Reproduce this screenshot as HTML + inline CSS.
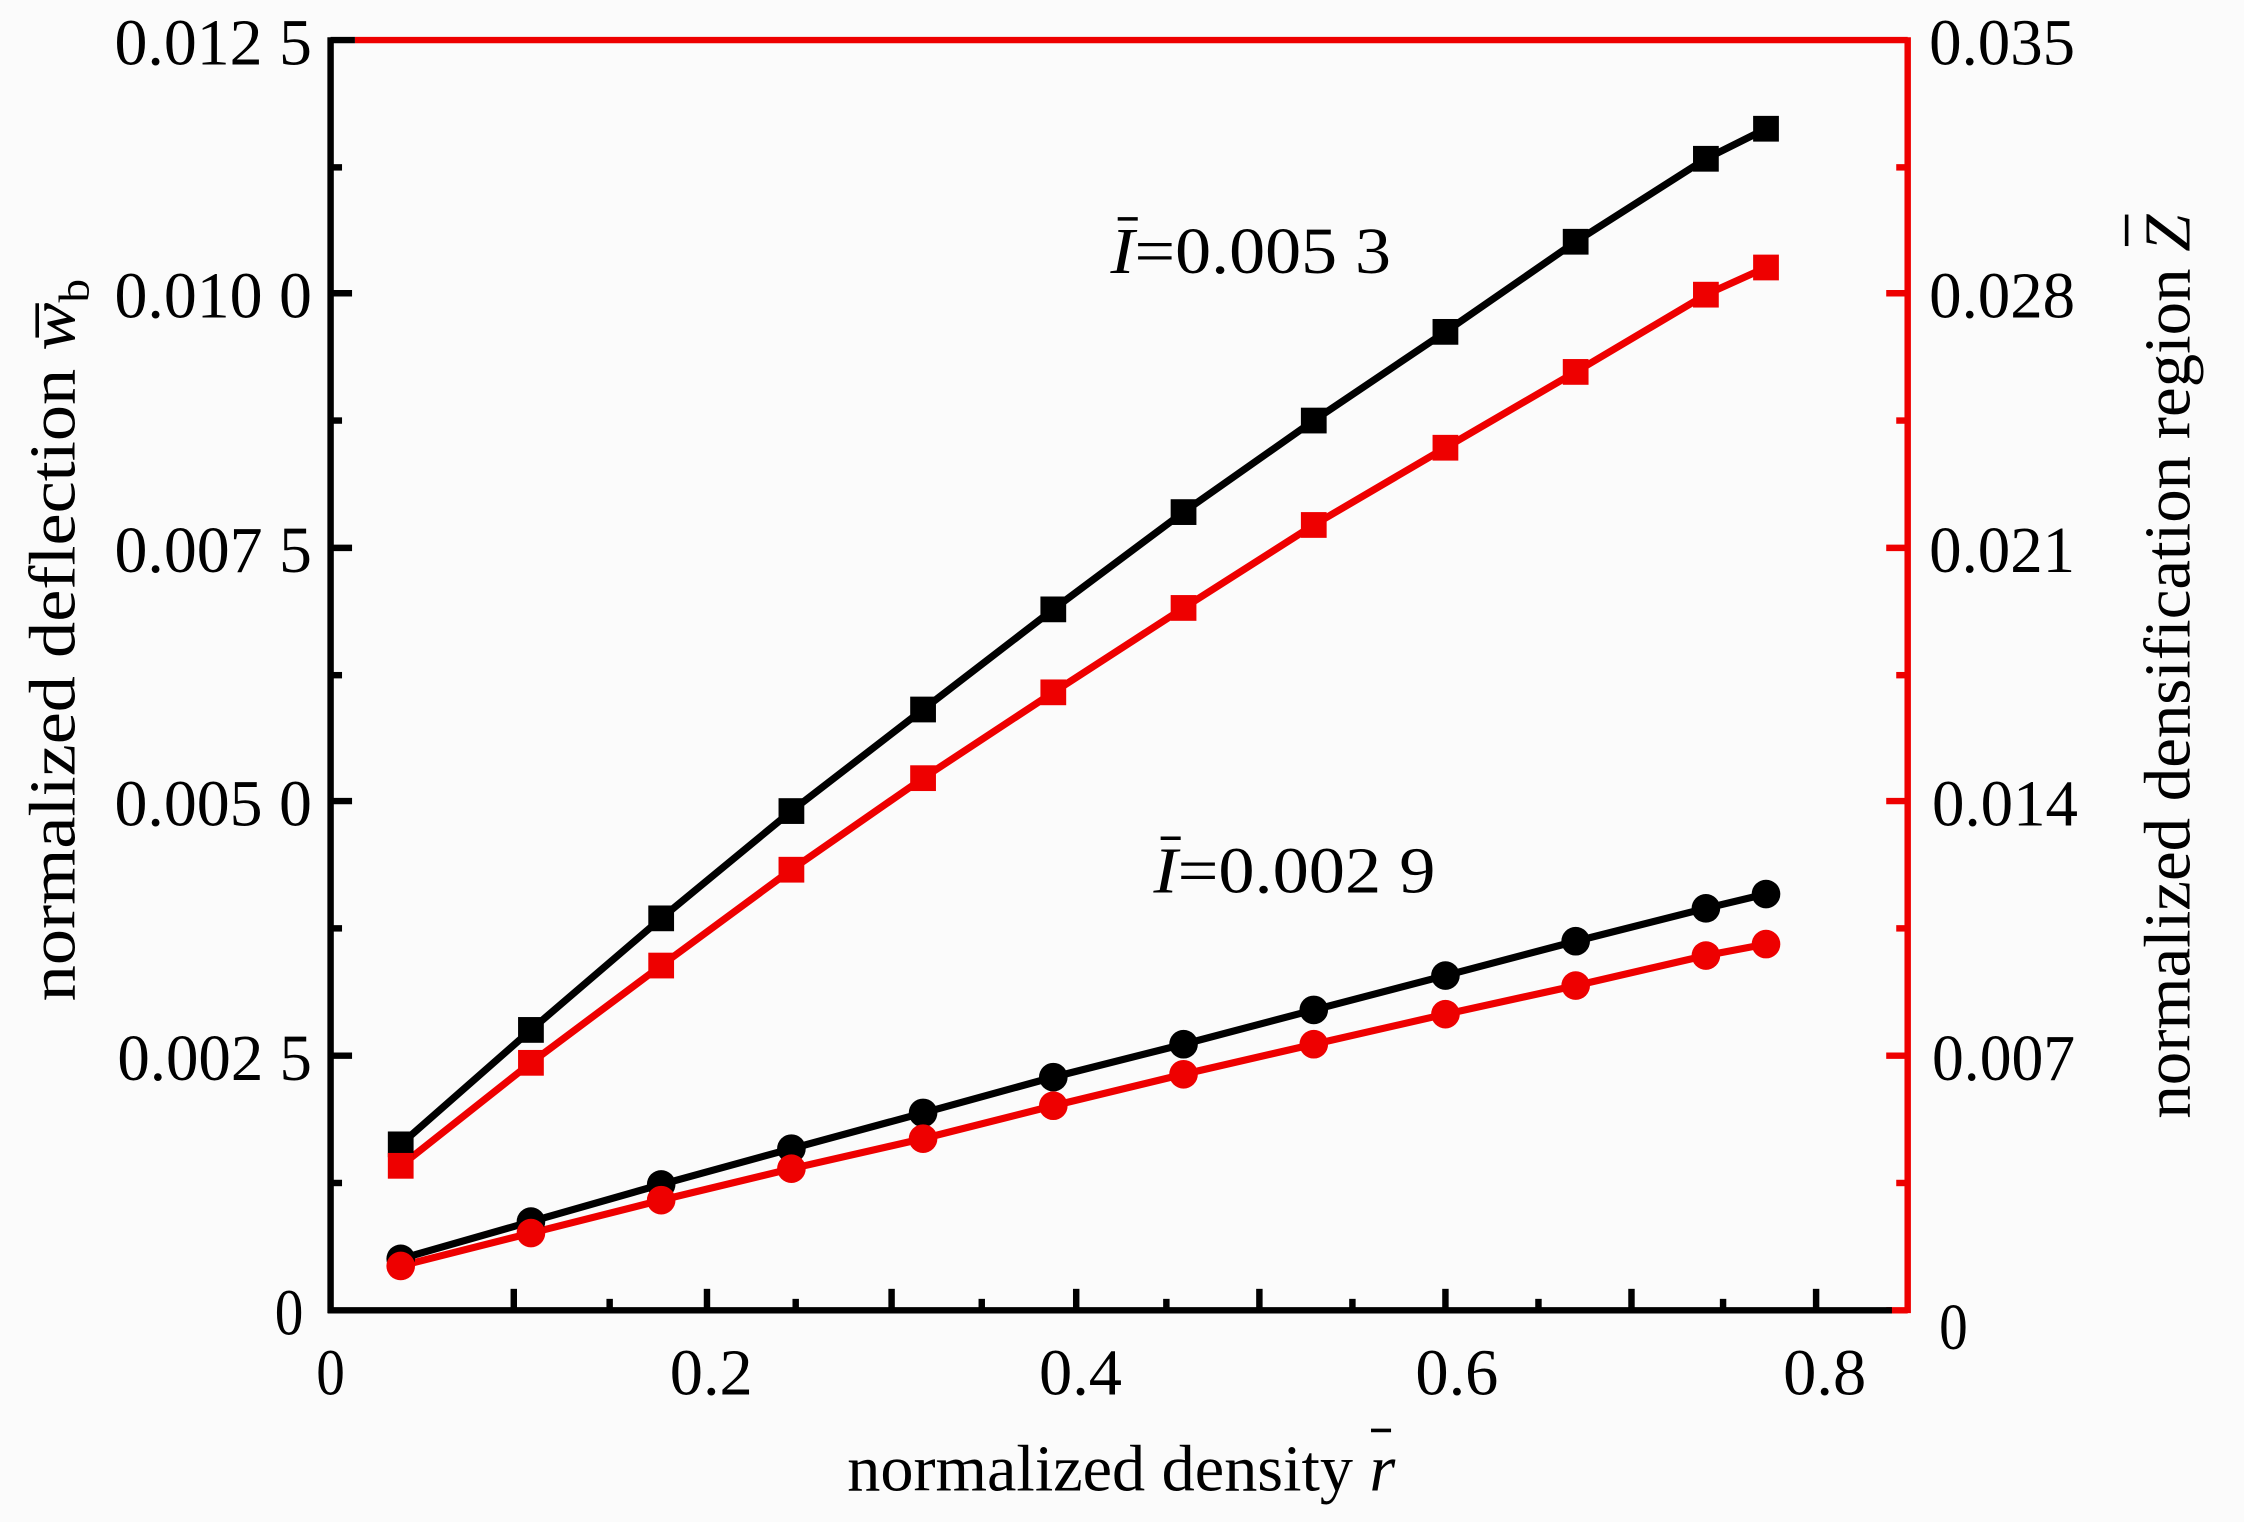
<!DOCTYPE html>
<html><head><meta charset="utf-8"><style>
html,body{margin:0;padding:0;background:#fbfbfb;}
svg{display:block;}
text{font-family:"Liberation Serif",serif;fill:#000;}
</style></head><body>
<svg width="2244" height="1522" viewBox="0 0 1568 1064" preserveAspectRatio="none" xmlns="http://www.w3.org/2000/svg">
<rect width="1568" height="1064" fill="#fbfbfb"/>
<line x1="248" y1="28" x2="1333" y2="28" stroke="#e00" stroke-width="4.5"/>
<line x1="1333" y1="26" x2="1333" y2="918" stroke="#e00" stroke-width="4.5"/>
<g stroke="#e00" stroke-width="4.5">
<line x1="1318" y1="205" x2="1333" y2="205"/><line x1="1318" y1="383" x2="1333" y2="383"/>
<line x1="1318" y1="560" x2="1333" y2="560"/><line x1="1318" y1="738" x2="1333" y2="738"/>
<line x1="1318" y1="916" x2="1333" y2="916"/>
<line x1="1325" y1="117" x2="1333" y2="117"/><line x1="1325" y1="294" x2="1333" y2="294"/>
<line x1="1325" y1="472" x2="1333" y2="472"/><line x1="1325" y1="649" x2="1333" y2="649"/>
<line x1="1325" y1="827" x2="1333" y2="827"/>
</g>
<line x1="231" y1="26" x2="231" y2="918" stroke="#000" stroke-width="4.5"/>
<line x1="229" y1="916" x2="1322" y2="916" stroke="#000" stroke-width="4.5"/>
<g stroke="#000" stroke-width="4.5">
<line x1="231" y1="28" x2="248" y2="28"/>
<line x1="231" y1="205" x2="246" y2="205"/><line x1="231" y1="383" x2="246" y2="383"/>
<line x1="231" y1="560" x2="246" y2="560"/><line x1="231" y1="738" x2="246" y2="738"/>
<line x1="231" y1="117" x2="239" y2="117"/><line x1="231" y1="294" x2="239" y2="294"/>
<line x1="231" y1="472" x2="239" y2="472"/><line x1="231" y1="649" x2="239" y2="649"/>
<line x1="231" y1="827" x2="239" y2="827"/>
<line x1="494" y1="901" x2="494" y2="916"/><line x1="623" y1="901" x2="623" y2="916"/>
<line x1="752" y1="901" x2="752" y2="916"/><line x1="880" y1="901" x2="880" y2="916"/>
<line x1="1010" y1="901" x2="1010" y2="916"/><line x1="1140" y1="901" x2="1140" y2="916"/>
<line x1="1269" y1="901" x2="1269" y2="916"/><line x1="359" y1="901" x2="359" y2="916"/>
<line x1="426" y1="908" x2="426" y2="916"/><line x1="556" y1="908" x2="556" y2="916"/>
<line x1="686" y1="908" x2="686" y2="916"/><line x1="815" y1="908" x2="815" y2="916"/>
<line x1="945" y1="908" x2="945" y2="916"/><line x1="1075" y1="908" x2="1075" y2="916"/>
<line x1="1204" y1="908" x2="1204" y2="916"/>
</g>
<g font-size="46" text-anchor="end">
<text x="218" y="45" textLength="138" lengthAdjust="spacingAndGlyphs">0.012 5</text>
<text x="218" y="222" textLength="138" lengthAdjust="spacingAndGlyphs">0.010 0</text>
<text x="218" y="400" textLength="138" lengthAdjust="spacingAndGlyphs">0.007 5</text>
<text x="218" y="577" textLength="138" lengthAdjust="spacingAndGlyphs">0.005 0</text>
<text x="218" y="755" textLength="136" lengthAdjust="spacingAndGlyphs">0.002 5</text>
<text x="212" y="933" textLength="20" lengthAdjust="spacingAndGlyphs">0</text>
</g>
<g font-size="46">
<text x="1348" y="45" textLength="102" lengthAdjust="spacingAndGlyphs">0.035</text>
<text x="1348" y="222" textLength="102" lengthAdjust="spacingAndGlyphs">0.028</text>
<text x="1348" y="400" textLength="102" lengthAdjust="spacingAndGlyphs">0.021</text>
<text x="1350" y="577" textLength="102" lengthAdjust="spacingAndGlyphs">0.014</text>
<text x="1350" y="755" textLength="100" lengthAdjust="spacingAndGlyphs">0.007</text>
<text x="1355" y="943" textLength="20" lengthAdjust="spacingAndGlyphs">0</text>
</g>
<g font-size="46" text-anchor="middle">
<text x="231" y="975" textLength="20" lengthAdjust="spacingAndGlyphs">0</text>
<text x="497" y="975" textLength="58" lengthAdjust="spacingAndGlyphs">0.2</text>
<text x="755" y="975" textLength="58" lengthAdjust="spacingAndGlyphs">0.4</text>
<text x="1018" y="975" textLength="58" lengthAdjust="spacingAndGlyphs">0.6</text>
<text x="1275" y="975" textLength="58" lengthAdjust="spacingAndGlyphs">0.8</text>
</g>
<text x="592" y="1042" font-size="46" textLength="383" lengthAdjust="spacingAndGlyphs">normalized density <tspan font-style="italic">r</tspan></text>
<line x1="958" y1="1000" x2="972" y2="1000" stroke="#000" stroke-width="2.5"/>
<text transform="translate(52,700) rotate(-90)" font-size="46" textLength="505" lengthAdjust="spacingAndGlyphs">normalized deflection <tspan font-style="italic">w</tspan><tspan font-size="30" dy="10">b</tspan></text>
<line x1="26" y1="212" x2="26" y2="236" stroke="#000" stroke-width="2.5"/>
<text transform="translate(1530,782) rotate(-90)" font-size="46" textLength="632" lengthAdjust="spacingAndGlyphs">normalized densification region <tspan font-style="italic">Z</tspan></text>
<line x1="1486" y1="150" x2="1486" y2="172" stroke="#000" stroke-width="2.5"/>
<text x="776" y="191" font-size="46" textLength="196" lengthAdjust="spacingAndGlyphs"><tspan font-style="italic">I</tspan>=0.005 3</text>
<line x1="781" y1="153" x2="795" y2="153" stroke="#000" stroke-width="2.5"/>
<text x="806" y="624" font-size="46" textLength="197" lengthAdjust="spacingAndGlyphs"><tspan font-style="italic">I</tspan>=0.002 9</text>
<line x1="811" y1="586" x2="825" y2="586" stroke="#000" stroke-width="2.5"/>
<g fill="none" stroke-width="5">
<polyline stroke="#000" points="280,800 371,720 462,642 553,567 645,496 736,426 827,358 918,294 1010,232 1101,169 1192,111 1234,90"/>
<polyline stroke="#e00" points="280,815 371,743 462,675 553,608 645,544 736,484 827,425 918,367 1010,313 1101,260 1192,206 1234,187"/>
<polyline stroke="#000" points="280,880 371,854 462,828 553,803 645,778 736,753 827,730 918,706 1010,682 1101,658 1192,635 1234,625"/>
<polyline stroke="#e00" points="280,885 371,862 462,839 553,817 645,796 736,773 827,751 918,730 1010,709 1101,689 1192,668 1234,660"/>
</g>
<g fill="#000">
<rect x="271" y="791" width="18" height="18"/><rect x="362" y="711" width="18" height="18"/><rect x="453" y="633" width="18" height="18"/><rect x="544" y="558" width="18" height="18"/><rect x="636" y="487" width="18" height="18"/><rect x="727" y="417" width="18" height="18"/><rect x="818" y="349" width="18" height="18"/><rect x="909" y="285" width="18" height="18"/><rect x="1001" y="223" width="18" height="18"/><rect x="1092" y="160" width="18" height="18"/><rect x="1183" y="102" width="18" height="18"/><rect x="1225" y="81" width="18" height="18"/>
</g>
<g fill="#e00">
<rect x="271" y="806" width="18" height="18"/><rect x="362" y="734" width="18" height="18"/><rect x="453" y="666" width="18" height="18"/><rect x="544" y="599" width="18" height="18"/><rect x="636" y="535" width="18" height="18"/><rect x="727" y="475" width="18" height="18"/><rect x="818" y="416" width="18" height="18"/><rect x="909" y="358" width="18" height="18"/><rect x="1001" y="304" width="18" height="18"/><rect x="1092" y="251" width="18" height="18"/><rect x="1183" y="197" width="18" height="18"/><rect x="1225" y="178" width="18" height="18"/>
</g>
<g fill="#000">
<circle cx="280" cy="880" r="10"/><circle cx="371" cy="854" r="10"/><circle cx="462" cy="828" r="10"/><circle cx="553" cy="803" r="10"/><circle cx="645" cy="778" r="10"/><circle cx="736" cy="753" r="10"/><circle cx="827" cy="730" r="10"/><circle cx="918" cy="706" r="10"/><circle cx="1010" cy="682" r="10"/><circle cx="1101" cy="658" r="10"/><circle cx="1192" cy="635" r="10"/><circle cx="1234" cy="625" r="10"/>
</g>
<g fill="#e00">
<circle cx="280" cy="885" r="10"/><circle cx="371" cy="862" r="10"/><circle cx="462" cy="839" r="10"/><circle cx="553" cy="817" r="10"/><circle cx="645" cy="796" r="10"/><circle cx="736" cy="773" r="10"/><circle cx="827" cy="751" r="10"/><circle cx="918" cy="730" r="10"/><circle cx="1010" cy="709" r="10"/><circle cx="1101" cy="689" r="10"/><circle cx="1192" cy="668" r="10"/><circle cx="1234" cy="660" r="10"/>
</g>
</svg>
</body></html>
